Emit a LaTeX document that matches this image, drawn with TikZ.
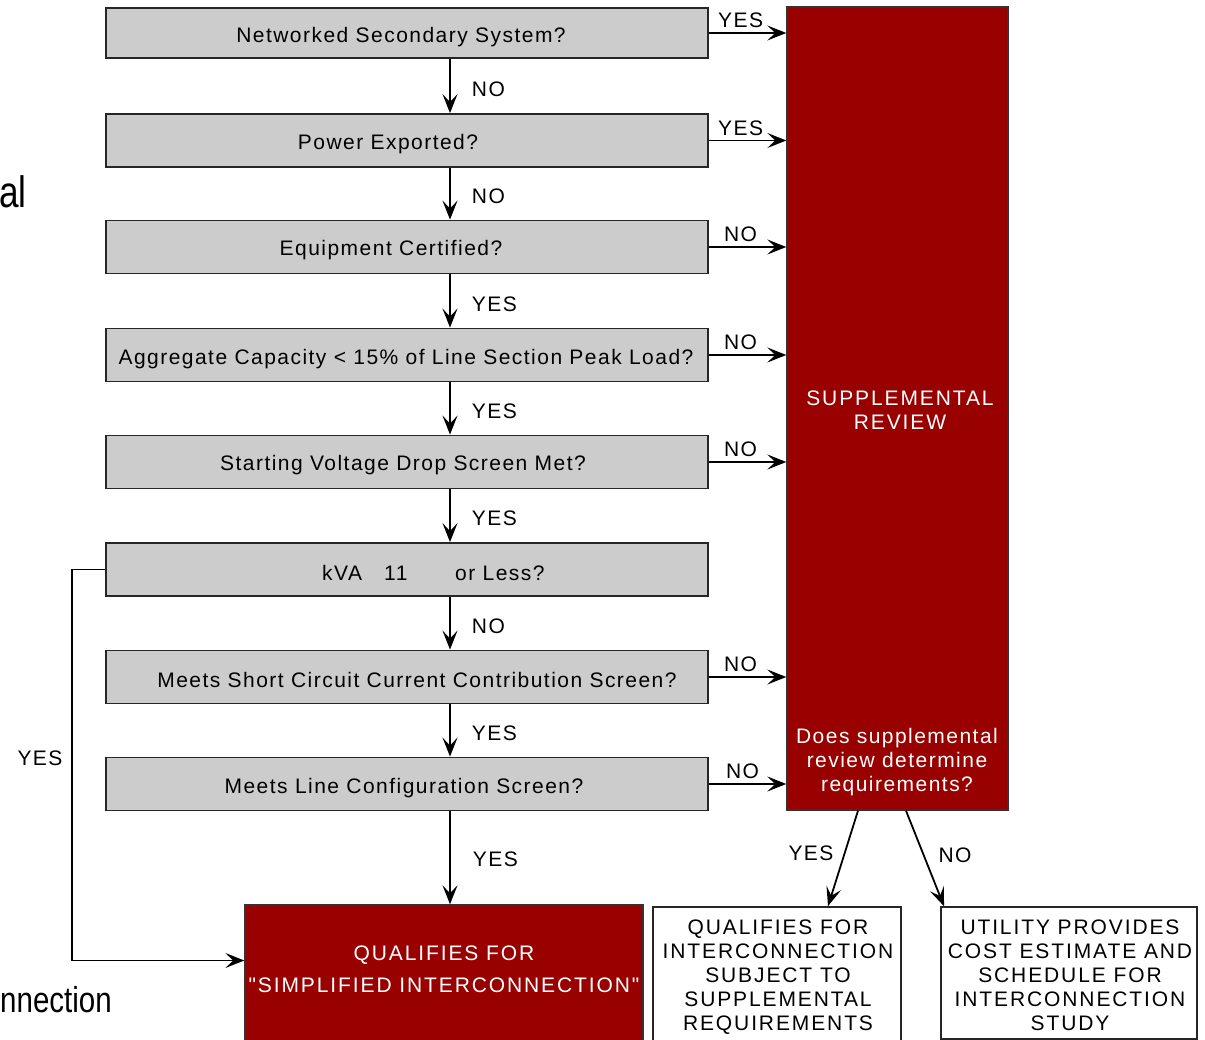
\documentclass[tikz,border=0pt]{standalone}
\usepackage{fontspec}
\setmainfont{Liberation Sans}
\newfontfamily\boxfont[LetterSpace=7]{Liberation Sans}
\newfontfamily\capfont[LetterSpace=9]{Liberation Sans}
\usetikzlibrary{arrows.meta}
\definecolor{boxgray}{HTML}{CCCCCC}
\definecolor{darkred}{HTML}{990000}
\begin{document}
\begin{tikzpicture}[x=1pt,y=-1pt,
  qbox/.style={draw=black!85, line width=1.8pt, fill=boxgray, minimum width=602pt, minimum height=53pt, inner sep=0pt},
  qtext/.style={font=\boxfont\fontsize{21}{24}\selectfont, inner sep=0pt},
  lbl/.style={font=\boxfont\fontsize{21}{24}\selectfont, inner sep=0pt, text=black},
  arr/.style={line width=1.8pt, -{Stealth[length=19pt,width=15pt,inset=8pt]}},
  redbox/.style={draw=black!80, line width=1.4pt, fill=darkred, inner sep=0pt},
  whitebox/.style={draw=black!85, line width=1.6pt, fill=white, inner sep=0pt},
  wtext/.style={font=\boxfont\fontsize{21}{24}\selectfont, text=white, inner sep=0pt, align=center},
  captext/.style={font=\capfont\fontsize{21}{24}\selectfont, inner sep=0pt, align=center},
  slide/.style={font=\fontsize{36}{40}\selectfont, inner sep=0pt, text=black}
]
\fill[white] (0,0) rectangle (1205,1040);
\useasboundingbox (0,0) rectangle (1205,1040);

% slide fragments
\node[slide, font=\fontsize{44}{48}\selectfont, anchor=base east] (frag1) at (27,208) {\scalebox{0.8}[1]{al}};
\node[slide, anchor=base east] (frag2) at (112,1012) {\scalebox{0.82}[1]{nnection}};

% big supplemental review box
\node[redbox, minimum width=221pt, minimum height=803pt] (sup) at (897.5,408.5) {};
\node[wtext, font=\capfont\fontsize{21}{24}\selectfont] (supt) at (900,410) {SUPPLEMENTAL\\REVIEW};
\node[wtext, anchor=north] (supq) at (897,728) {Does supplemental\\review determine\\requirements?};

% question boxes
\node[qbox, minimum height=50pt] (q1) at (407,33) {};
\node[qbox] (q2) at (407,140.5) {};
\node[qbox] (q3) at (407,247) {};
\node[qbox] (q4) at (407,355) {};
\node[qbox] (q5) at (407,462) {};
\node[qbox] (q6) at (407,569.5) {};
\node[qbox] (q7) at (407,677) {};
\node[qbox] (q8) at (407,784) {};

\node[qtext] (t1) at (401,37) {Networked Secondary System?};
\node[qtext] (t2) at (388,144) {Power Exported?};
\node[qtext] (t3) at (391,250) {Equipment Certified?};
\node[qtext] (t4) at (406,359) {Aggregate Capacity < 15\% of Line Section Peak Load?};
\node[qtext] (t5) at (403,465) {Starting Voltage Drop Screen Met?};
\node[qtext, anchor=west] (t6a) at (322,573) {kVA};
\node[qtext, anchor=west] (t6b) at (384,573) {11};
\node[qtext, anchor=west] (t6c) at (455,573) {or Less?};
\node[qtext] (t7) at (417,680) {Meets Short Circuit Current Contribution Screen?};
\node[qtext] (t8) at (404,788) {Meets Line Configuration Screen?};

% bottom boxes
\node[redbox, minimum width=398pt, minimum height=140pt] (simp) at (444,975) {};
\node[captext, text=white, anchor=north, font=\capfont\fontsize{21}{32}\selectfont] (simpt) at (444,946) {QUALIFIES FOR\\"SIMPLIFIED INTERCONNECTION"};
\node[whitebox, minimum width=248pt, minimum height=140pt] (subj) at (777,977) {};
\node[captext, anchor=north] (subjt) at (778,920) {QUALIFIES FOR\\INTERCONNECTION\\SUBJECT TO\\SUPPLEMENTAL\\REQUIREMENTS};
\node[whitebox, minimum width=256pt, minimum height=132pt] (util) at (1069,973) {};
\node[captext, anchor=north] (utilt) at (1070,920) {UTILITY PROVIDES\\COST ESTIMATE AND\\SCHEDULE FOR\\INTERCONNECTION\\STUDY};

% right arrows to supplemental review
\foreach \q/\l/\dx in {q1/YES/9,q2/YES/9,q3/NO/15,q4/NO/15,q5/NO/15,q7/NO/15,q8/NO/17}{
  \draw[arr] (\q.east) -- (\q.east -| sup.west);
  \node[lbl, anchor=south west] (\q lab) at ([xshift=\dx pt,yshift=5pt]\q.east) {\l};
}

% down arrows
\foreach \a/\b/\l in {q1/q2/NO,q2/q3/NO,q3/q4/YES,q4/q5/YES,q5/q6/YES,q6/q7/NO,q7/q8/YES}{
  \draw[arr] ([xshift=43pt]\a.south) -- ([xshift=43pt]\b.north)
    node[lbl, midway, anchor=west, xshift=21pt, yshift=-3pt] (\a dl) {\l};
}
\draw[arr] ([xshift=43pt]q8.south) -- ([xshift=43pt]q8.south |- simp.north)
  node[lbl, midway, anchor=west, xshift=22pt, yshift=-1pt] (q8dl) {YES};

% feedback from kVA box
\draw[arr] (q6.west) -- ++(-33,0) |- ([yshift=14.5pt]simp.west);
\node[lbl] (fbl) at (40,758) {YES};

% supplemental outcomes
\draw[arr] ([xshift=-39.5pt]sup.south) -- ([xshift=51pt]subj.north);
\node[lbl] (yesl) at (811,853) {YES};
\draw[arr] ([xshift=8.5pt]sup.south) -- ([xshift=-125pt]util.north);
\node[lbl] (nol) at (955,855) {NO};
\end{tikzpicture}
\end{document}
